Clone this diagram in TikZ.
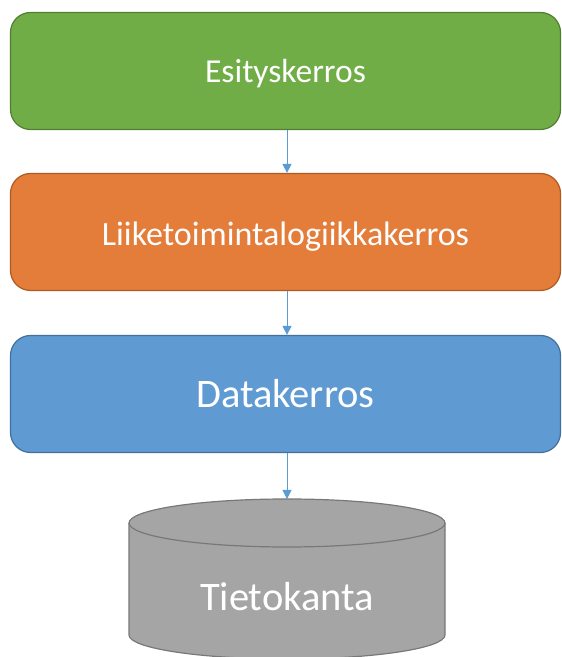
\documentclass[tikz,border=0pt]{standalone}
\usepackage{fontspec}
\setmainfont{Carlito}
\usetikzlibrary{arrows.meta}
\definecolor{gfill}{HTML}{70AD47}\definecolor{gline}{HTML}{507E32}
\definecolor{ofill}{HTML}{E47C3A}\definecolor{oline}{HTML}{AE5A21}
\definecolor{bfill}{HTML}{5F9AD3}\definecolor{bline}{HTML}{41719C}
\definecolor{dfill}{HTML}{A5A5A5}\definecolor{dline}{HTML}{787878}
\definecolor{arr}{HTML}{5B9BD5}
\begin{document}
\begin{tikzpicture}[x=1pt,y=1pt,
  layer/.style={rounded corners=20pt, line width=1.2pt, minimum width=550pt, minimum height=117pt, inner sep=0pt},
  lbl/.style={text=white, inner sep=0pt},
  conn/.style={draw=arr, line width=0.9pt, -{Triangle[length=9pt,width=9pt]}}]
\useasboundingbox (0,0) rectangle (562,657);
\node[layer, fill=gfill, draw=gline] (pres) at (285.5,586) {};
\node[layer, fill=ofill, draw=oline] (logic) at (285.5,425) {};
\node[layer, fill=bfill, draw=bline] (data) at (285.5,263) {};
\node[lbl, font=\fontsize{33.5}{38}\selectfont] (prestext) at ([yshift=-3pt]pres.center) {Esityskerros};
\node[lbl, font=\fontsize{34}{38}\selectfont] (logictext) at ([yshift=-4.5pt]logic.center) {Liiketoimintalogiikkakerros};
\node[lbl, font=\fontsize{40.5}{44}\selectfont] (datatext) at (data.center) {Datakerros};
% cylinder
\path[fill=dfill, draw=dline, line width=1.2pt]
  (129,134) -- (129,22) arc[start angle=180,end angle=360,x radius=158,y radius=24]
  -- (445,134) arc[start angle=0,end angle=180,x radius=158,y radius=24] -- cycle;
\draw[dline, line width=1.2pt] (129,134) arc[start angle=180,end angle=360,x radius=158,y radius=24];
\coordinate (dbtop) at (287,158);
\node[lbl, font=\fontsize{40.5}{44}\selectfont] (db) at (287,60) {Tietokanta};
\draw[conn] (pres.south -| dbtop) -- (logic.north -| dbtop);
\draw[conn] (logic.south -| dbtop) -- (data.north -| dbtop);
\draw[conn] (data.south -| dbtop) -- (dbtop);
\end{tikzpicture}
\end{document}
